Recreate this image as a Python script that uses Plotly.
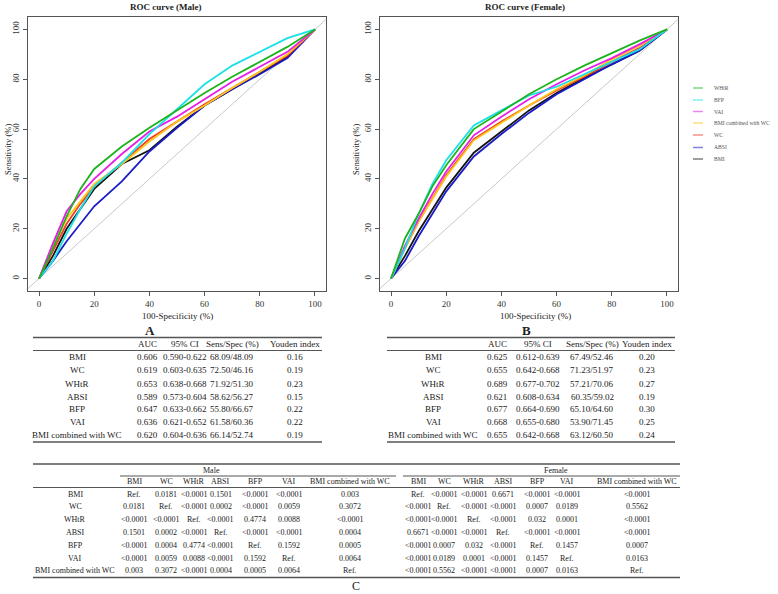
import plotly.graph_objects as go

W, H = 778, 594

# ---------------- data ----------------
fpr = [0, 5, 10, 15, 20, 30, 40, 50, 60, 70, 80, 90, 100]
names = ["WHtR", "BFP", "VAI", "BMI combined with WC", "WC", "ABSI", "BMI"]
colors = ["#1DB31D", "#19E1E6", "#E61EE6", "#FFC61A", "#F03C28", "#1B1BC8", "#141414"]

male_whtr = [0, 12, 25, 36, 44, 53, 60.5, 67.5, 74.5, 81, 87, 93, 100]
male_bfp = [0, 7, 18, 28, 37, 46.5, 58, 68, 78, 85.5, 91, 96.5, 100]
male_vai = [0, 14, 27, 34, 40, 50, 59, 65, 72, 79, 85, 91, 100]
male_bmiwc = [0, 13, 24, 31, 38, 46, 55, 63, 69.5, 76.5, 83, 90, 100]
male_wc = [0, 11, 22, 30, 37, 46.5, 56, 63, 70, 76.5, 83, 89.5, 100]
male_absi = [0, 7, 15, 22, 29, 39, 51, 60.5, 69.5, 76, 82, 88.5, 100]
male_bmi = [0, 9, 20, 28, 36, 46, 51.5, 61, 69.5, 76, 82.5, 89, 100]

female_whtr = [0, 16, 26, 37, 45.5, 60, 67, 74, 80, 85.5, 90.5, 95.5, 100]
female_bfp = [0, 12, 26, 38, 47.5, 61.5, 67.5, 73.5, 77, 82, 87, 92, 100]
female_vai = [0, 13, 24, 34, 43, 57.5, 65, 72, 78, 83.5, 88.5, 94, 100]
female_bmiwc = [0, 12, 23, 32, 41, 55.5, 62.5, 69.5, 76, 81.5, 88, 93.5, 100]
female_wc = [0, 12, 23, 32, 41.5, 56, 63, 69.5, 75.5, 81, 87, 92.5, 100]
female_absi = [0, 7, 17, 26, 35, 49, 58, 66.5, 74, 80, 86, 91.5, 100]
female_bmi = [0, 9, 19, 28, 36.5, 50.5, 59, 67.5, 74.5, 80.5, 86, 91.5, 100]

male_sens = [male_whtr, male_bfp, male_vai, male_bmiwc, male_wc, male_absi, male_bmi]
female_sens = [female_whtr, female_bfp, female_vai, female_bmiwc, female_wc, female_absi, female_bmi]

axis_ticks = [0, 20, 40, 60, 80, 100]

table_rows = ["BMI", "WC", "WHtR", "ABSI", "BFP", "VAI", "BMI combined with WC"]
table_head = ["AUC", "95% CI", "Sens/Spec (%)", "Youden index"]
male_auc = ["0.606", "0.619", "0.653", "0.589", "0.647", "0.636", "0.620"]
male_ci = ["0.590-0.622", "0.603-0.635", "0.638-0.668", "0.573-0.604", "0.633-0.662", "0.621-0.652", "0.604-0.636"]
male_ss = ["68.09/48.09", "72.50/46.16", "71.92/51.30", "58.62/56.27", "55.80/66.67", "61.58/60.36", "66.14/52.74"]
male_youden = ["0.16", "0.19", "0.23", "0.15", "0.22", "0.22", "0.19"]
female_auc = ["0.625", "0.655", "0.689", "0.621", "0.677", "0.668", "0.655"]
female_ci = ["0.612-0.639", "0.642-0.668", "0.677-0.702", "0.608-0.634", "0.664-0.690", "0.655-0.680", "0.642-0.668"]
female_ss = ["67.49/52.46", "71.23/51.97", "57.21/70.06", "60.35/59.02", "65.10/64.60", "53.90/71.45", "63.12/60.50"]
female_youden = ["0.20", "0.23", "0.27", "0.19", "0.30", "0.25", "0.24"]

L = "&lt;0.0001"
male_p = [
    ["Ref.", "0.0181", L, "0.1501", L, L, "0.003"],
    ["0.0181", "Ref.", L, "0.0002", L, "0.0059", "0.3072"],
    [L, L, "Ref.", L, "0.4774", "0.0088", L],
    ["0.1501", "0.0002", L, "Ref.", L, L, "0.0004"],
    [L, "0.0004", "0.4774", L, "Ref.", "0.1592", "0.0005"],
    [L, "0.0059", "0.0088", L, "0.1592", "Ref.", "0.0064"],
    ["0.003", "0.3072", L, "0.0004", "0.0005", "0.0064", "Ref."],
]
female_p = [
    ["Ref.", L, L, "0.6671", L, L, L],
    [L, "Ref.", L, L, "0.0007", "0.0189", "0.5562"],
    [L, L, "Ref.", L, "0.032", "0.0001", L],
    ["0.6671", L, L, "Ref.", L, L, L],
    [L, "0.0007", "0.032", L, "Ref.", "0.1457", "0.0007"],
    [L, "0.0189", "0.0001", L, "0.1457", "Ref.", "0.0163"],
    [L, "0.5562", L, L, "0.0007", "0.0163", "Ref."],
]

# ---------------- figure ----------------
FONT = "Liberation Serif"
fig = go.Figure()

def X(p):
    return p / W

def Y(p):
    return 1 - p / H

for k, sens in enumerate([male_sens, female_sens]):
    xa = "x" if k == 0 else "x2"
    ya = "y" if k == 0 else "y2"
    fig.add_trace(go.Scatter(x=[-10, 110], y=[-10, 110], mode="lines",
                             line=dict(color="#C8C8C8", width=1),
                             xaxis=xa, yaxis=ya, showlegend=False, hoverinfo="skip"))
    for i in reversed(range(len(names))):
        fig.add_trace(go.Scatter(x=fpr, y=sens[i], mode="lines", name=names[i],
                                 line=dict(color=colors[i], width=1.8),
                                 xaxis=xa, yaxis=ya, showlegend=False))

ax_common = dict(showgrid=False, zeroline=False, showline=True, mirror=True,
                 linecolor="#555555", linewidth=1, ticks="outside", ticklen=4,
                 tickcolor="#555555", tickvals=axis_ticks,
                 tickfont=dict(family=FONT, size=9, color="#333333"))

top_px, bot_px = 17, 291
ydom = [Y(bot_px), Y(top_px)]
fig.update_layout(
    width=W, height=H, autosize=False,
    margin=dict(l=0, r=0, t=0, b=0),
    paper_bgcolor="white", plot_bgcolor="white",
    xaxis=dict(domain=[X(28), X(326)], range=[-4, 104], anchor="y", **ax_common),
    yaxis=dict(domain=ydom, range=[-5, 105], anchor="x", tickangle=-90, **ax_common),
    xaxis2=dict(domain=[X(380), X(678)], range=[-4, 104], anchor="y2", **ax_common),
    yaxis2=dict(domain=ydom, range=[-5, 105], anchor="x2", tickangle=-90, **ax_common),
)

ann = []
shapes = []

def text(x, y, s, size=9, bold=False, anchor="center", angle=0, color="#222222"):
    if bold:
        s = "<b>" + s + "</b>"
    ann.append(dict(x=X(x), y=Y(y), xref="paper", yref="paper", text=s, showarrow=False,
                    xanchor=anchor, yanchor="middle", textangle=angle,
                    font=dict(family=FONT, size=size, color=color)))

def hline(x0, x1, y, width=1, color="#555555"):
    shapes.append(dict(type="line", xref="paper", yref="paper", x0=X(x0), x1=X(x1),
                       y0=Y(y), y1=Y(y), line=dict(color=color, width=width)))

# titles & axis labels
text(165, 7, "ROC curve (Male)", size=9, bold=True)
text(525, 7, "ROC curve (Female)", size=9, bold=True)
text(177, 316, "100-Specificity (%)", size=9)
text(535, 316, "100-Specificity (%)", size=9)
text(8, 150, "Sensitivity (%)", size=8.5, angle=-90)
text(356, 150, "Sensitivity (%)", size=8.5, angle=-90)
text(150, 330, "A", size=13, bold=True)
text(526, 330, "B", size=13, bold=True)
text(356, 586, "C", size=12)

# legend
leg_y = [88, 100, 111.5, 123, 135, 147.5, 159]
for i, nm in enumerate(names):
    shapes.append(dict(type="line", xref="paper", yref="paper", x0=X(693), x1=X(703),
                       y0=Y(leg_y[i]), y1=Y(leg_y[i]),
                       line=dict(color=colors[i], width=1.5), opacity=0.55))
    text(712, leg_y[i], nm, size=5.6, anchor="left", color="#555555")

# tables A & B
row_y = [357, 370.3, 383.5, 396.5, 409.3, 422.3, 435]
for (cols, lx, data) in [
    ([77, 147, 185, 232, 295], (33, 322), [male_auc, male_ci, male_ss, male_youden]),
    ([433, 497, 538, 592, 647], (387, 675), [female_auc, female_ci, female_ss, female_youden]),
]:
    hline(lx[0], lx[1], 337.5, width=1.3)
    hline(lx[0], lx[1], 350.5)
    hline(lx[0], lx[1], 442, width=1.3)
    for j, h in enumerate(table_head):
        text(cols[j + 1], 344, h, size=9)
    for r, rn in enumerate(table_rows):
        text(cols[0], row_y[r], rn, size=9)
        for j in range(4):
            text(cols[j + 1], row_y[r], data[j][r], size=9)

# table C
c_rows_y = [494, 506.6, 519.2, 532, 545, 558, 570.6]
male_cols = [134, 166, 194, 221, 255, 289, 350]
female_cols = [418, 444, 474, 503, 537, 567, 637]
hline(33, 680, 464, width=1.3)
hline(120, 396, 476)
hline(403, 680, 476)
hline(33, 680, 487.5)
hline(33, 680, 577.5, width=1.3)
text(212, 470.5, "Male", size=8)
text(556, 470.5, "Female", size=8)
for j, h in enumerate(table_rows):
    text(male_cols[j], 481.5, h, size=8)
    text(female_cols[j], 481.5, h, size=8)
for r, rn in enumerate(table_rows):
    text(75, c_rows_y[r], rn, size=8)
    for j in range(7):
        text(male_cols[j], c_rows_y[r], male_p[r][j], size=8)
        text(female_cols[j], c_rows_y[r], female_p[r][j], size=8)

fig.update_layout(annotations=ann, shapes=shapes)
fig.write_html("out.html", config={"displayModeBar": False},
               post_script="document.body.style.margin='0';")
